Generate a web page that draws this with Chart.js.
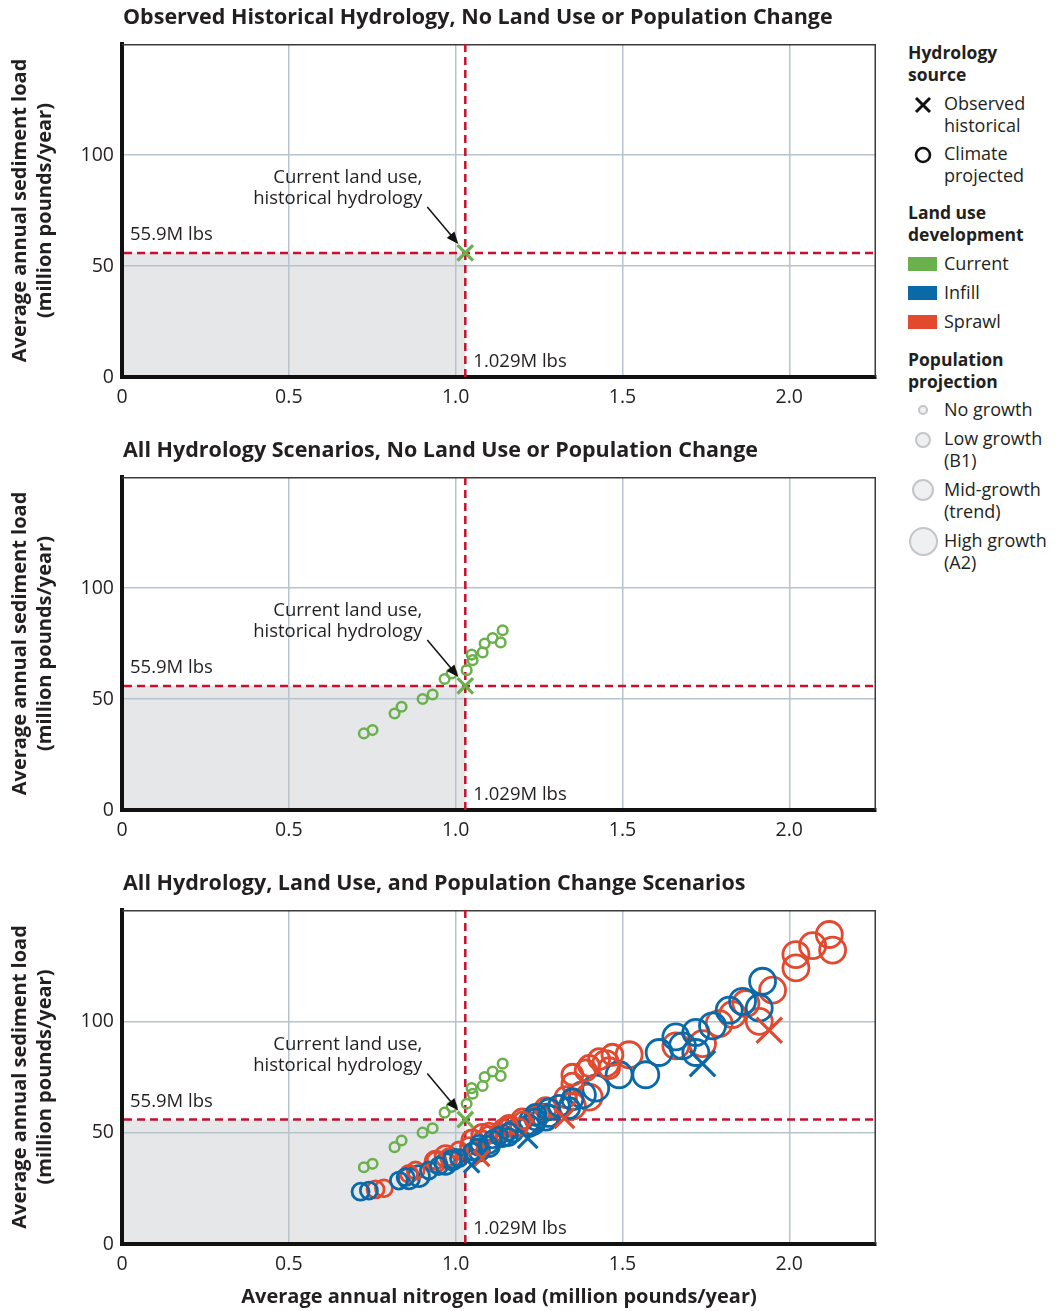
<!DOCTYPE html>
<html>
<head>
<meta charset="utf-8">
<script src="https://cdn.jsdelivr.net/npm/chart.js@4.4.1/dist/chart.umd.min.js"></script>
<style>
  body { margin: 0; background: #fff; font-family: "Open Sans", sans-serif; color: #231f20; }
  #page { position: relative; width: 1063px; height: 1311px; overflow: hidden; }
  canvas { position: absolute; left: 0; }
  .lg { position: absolute; font-size: 18px; line-height: 21.5px; white-space: nowrap; }
  .lg.head { font-weight: bold; font-size: 17.5px; left: 908px; }
  .lg.txt { left: 944px; }
  .sw { position: absolute; left: 908px; width: 29px; height: 14px; }
  .pop { position: absolute; border-radius: 50%; background: #eef0f2; border: 2.5px solid #c3c5c8; box-sizing: border-box; }
</style>
</head>
<body>
<div id="page">
  <canvas id="p1" width="890" height="433" style="top:0"></canvas>
  <canvas id="p2" width="890" height="433" style="top:433px"></canvas>
  <canvas id="p3" width="890" height="445" style="top:866px"></canvas>

  <div class="lg head" style="top:42px">Hydrology<br>source</div>
  <svg style="position:absolute;left:914px;top:96px" width="18" height="18"><path d="M2 2 L16 16 M16 2 L2 16" stroke="#111" stroke-width="3"/></svg>
  <div class="lg txt" style="top:93px">Observed<br>historical</div>
  <svg style="position:absolute;left:913px;top:145px" width="20" height="20"><circle cx="10" cy="10" r="7" fill="none" stroke="#111" stroke-width="2.6"/></svg>
  <div class="lg txt" style="top:143px">Climate<br>projected</div>

  <div class="lg head" style="top:202px">Land use<br>development</div>
  <div class="sw" style="top:257px;background:#6ab04c"></div>
  <div class="lg txt" style="top:253px">Current</div>
  <div class="sw" style="top:286px;background:#0a6aa8"></div>
  <div class="lg txt" style="top:282px">Infill</div>
  <div class="sw" style="top:315px;background:#e2492f"></div>
  <div class="lg txt" style="top:311px">Sprawl</div>

  <div class="lg head" style="top:349px">Population<br>projection</div>
  <div class="pop" style="left:918px;top:405px;width:10px;height:10px"></div>
  <div class="lg txt" style="top:399px">No growth</div>
  <div class="pop" style="left:915px;top:432px;width:16px;height:16px"></div>
  <div class="lg txt" style="top:428px">Low growth<br>(B1)</div>
  <div class="pop" style="left:912px;top:479px;width:22px;height:22px"></div>
  <div class="lg txt" style="top:479px">Mid-growth<br>(trend)</div>
  <div class="pop" style="left:909px;top:527px;width:29px;height:29px"></div>
  <div class="lg txt" style="top:530px">High growth<br>(A2)</div>
</div>

<script>
// axis ticks and reference values
const xTicks = [0, 0.5, 1.0, 1.5, 2.0];
const yTicks = [0, 50, 100];
const refNitrogen = 1.029;
const refSediment = 55.9;

const titles = [
  "Observed Historical Hydrology, No Land Use or Population Change",
  "All Hydrology Scenarios, No Land Use or Population Change",
  "All Hydrology, Land Use, and Population Change Scenarios"
];

// [nitrogen, sediment] pairs, million pounds/year
const currentHistorical = [[1.029, 55.9]];
const currentClimate = [[0.725,34.5],[0.751,36],[0.817,43.5],[0.838,46.5],[0.901,50],[0.931,52],[0.967,59],[0.988,61.5],
  [1.033,63],[1.051,67.5],[1.048,70],[1.081,71],[1.087,75],[1.111,77.5],[1.135,75.5],[1.141,81]];

const infillLow = [[0.715,23.5],[0.74,24],[0.83,28.5],[0.85,30],[0.92,33],[0.95,35],[0.99,38],[1.01,38.5],
  [1.05,41.5],[1.07,43.5],[1.07,45],[1.10,44.5],[1.11,47],[1.13,48.5],[1.16,48],[1.16,50.5]];
const infillMid = [[0.86,29.5],[0.89,30.5],[0.97,36],[0.99,38],[1.07,42],[1.10,44],[1.14,48.5],[1.17,50.5],
  [1.22,53],[1.24,56],[1.24,58],[1.28,57.5],[1.28,60.5],[1.31,62],[1.34,61],[1.35,65]];
const infillHigh = [[1.23,55],[1.27,57],[1.38,67],[1.42,70],[1.49,76],[1.57,76],[1.61,86],[1.66,93],
  [1.68,89],[1.72,95],[1.72,86],[1.77,98],[1.82,105],[1.86,109],[1.91,106],[1.92,118]];
const sprawlLow = [[0.76,24.5],[0.785,25],[0.86,31.5],[0.88,33],[0.94,37.5],[0.98,39],[1.01,42],[1.04,44],
  [1.08,47],[1.10,49],[1.10,50.5],[1.13,50],[1.14,52],[1.16,53],[1.19,52.5],[1.20,55.5]];
const sprawlMid = [[0.94,37],[0.97,39.5],[1.05,46.5],[1.08,49],[1.16,53],[1.20,56],[1.25,58],[1.27,61],
  [1.33,66],[1.35,72],[1.35,76],[1.39,78],[1.40,80],[1.43,83],[1.46,79],[1.47,85]];
const sprawlHigh = [[1.35,62],[1.40,66],[1.45,81],[1.52,85],[1.66,89],[1.74,90],[1.79,99],[1.83,103],
  [1.87,108],[1.91,100],[1.95,114],[2.02,124],[2.02,130],[2.07,134],[2.12,139],[2.13,132]];
const infillHistorical = [[1.048,35.5],[1.216,47.5],[1.74,81]];
const sprawlHistorical = [[1.078,38.5],[1.326,56.5],[1.94,96]];

const GREEN = "#6ab04c", BLUE = "#0a6aa8", RED = "#e2492f";
const FONT = '"Open Sans", sans-serif';
const INK = "#231f20";

const pts = (arr) => arr.map(([x, y]) => ({ x, y }));

function circles(arr, color, r, bw) {
  return {
    data: pts(arr), pointStyle: "circle", pointRadius: r, pointHoverRadius: r,
    pointBorderColor: color, pointBackgroundColor: "rgba(0,0,0,0)", pointBorderWidth: bw
  };
}
function crosses(arr, color, r) {
  return {
    data: pts(arr), pointStyle: "crossRot", pointRadius: r, pointHoverRadius: r,
    pointBorderColor: color, pointBackgroundColor: color, pointBorderWidth: 3.2
  };
}

// gray box, reference lines, frame, labels and panel title
const refPlugin = {
  id: "refPlugin",
  beforeDraw(chart) {
    const { ctx, chartArea: a, scales: { x, y } } = chart;
    const px = x.getPixelForValue(refNitrogen), py = y.getPixelForValue(refSediment);
    ctx.save();
    ctx.fillStyle = "#e6e7e9";
    ctx.fillRect(a.left, py, px - a.left, a.bottom - py);
    ctx.restore();
  },
  beforeDatasetsDraw(chart) {
    const { ctx, chartArea: a, scales: { x, y } } = chart;
    const px = x.getPixelForValue(refNitrogen), py = y.getPixelForValue(refSediment);
    ctx.save();
    ctx.strokeStyle = "#3a3a3a";
    ctx.lineWidth = 1.5;
    ctx.beginPath();
    ctx.moveTo(a.left, a.top + 0.75); ctx.lineTo(a.right - 0.75, a.top + 0.75); ctx.lineTo(a.right - 0.75, a.bottom);
    ctx.stroke();
    ctx.strokeStyle = "#c8102e";
    ctx.lineWidth = 2.5;
    ctx.setLineDash([8, 5]);
    ctx.beginPath();
    ctx.moveTo(a.left + 2, py); ctx.lineTo(a.right, py);
    ctx.moveTo(px, a.top); ctx.lineTo(px, a.bottom);
    ctx.stroke();
    ctx.restore();
  },
  afterDraw(chart) {
    const { ctx, chartArea: a, scales: { x, y } } = chart;
    const px = x.getPixelForValue(refNitrogen), py = y.getPixelForValue(refSediment);
    ctx.save();
    ctx.fillStyle = INK;
    ctx.textBaseline = "middle";
    ctx.font = "bold 21.5px " + FONT;
    ctx.textAlign = "left";
    ctx.fillText(chart.options.plugins.refPlugin.title, a.left + 1, a.top - 26);

    ctx.font = "18.5px " + FONT;
    ctx.fillText("55.9M lbs", a.left + 8, py - 18);
    ctx.fillText("1.029M lbs", px + 8, a.bottom - 15);
    ctx.textAlign = "right";
    ctx.fillText("Current land use,", px - 43, py - 75);
    ctx.fillText("historical hydrology", px - 43, py - 54);

    // arrow to the historical point
    const tx = px - 7, ty = py - 9, sx = px - 38, sy = py - 46;
    const ang = Math.atan2(ty - sy, tx - sx);
    ctx.strokeStyle = "#111";
    ctx.lineWidth = 1.5;
    ctx.beginPath();
    ctx.moveTo(sx, sy);
    ctx.lineTo(tx - 8 * Math.cos(ang), ty - 8 * Math.sin(ang));
    ctx.stroke();
    ctx.fillStyle = "#111";
    ctx.beginPath();
    ctx.moveTo(tx, ty);
    ctx.lineTo(tx - 12 * Math.cos(ang) + 5 * Math.sin(ang), ty - 12 * Math.sin(ang) - 5 * Math.cos(ang));
    ctx.lineTo(tx - 12 * Math.cos(ang) - 5 * Math.sin(ang), ty - 12 * Math.sin(ang) + 5 * Math.cos(ang));
    ctx.closePath();
    ctx.fill();
    ctx.restore();
  }
};

function makePanel(id, title, datasets, xAxisH, showXTitle) {
  return new Chart(document.getElementById(id), {
    type: "scatter",
    data: { datasets },
    plugins: [refPlugin],
    options: {
      responsive: false,
      animation: false,
      events: [],
      layout: { autoPadding: false, padding: { top: 44, right: 14, left: 0, bottom: 0 } },
      plugins: { legend: { display: false }, tooltip: { enabled: false }, refPlugin: { title } },
      scales: {
        x: {
          type: "linear", min: 0, max: 2.26,
          afterBuildTicks: (s) => { s.ticks = xTicks.map((v) => ({ value: v })); },
          afterFit: (s) => { s.height = xAxisH; s.paddingLeft = 0; s.paddingRight = 0; },
          grid: { color: "#b7c3cd", lineWidth: 1.5, drawTicks: false },
          border: { color: "#111", width: 4 },
          ticks: {
            font: { family: FONT, size: 19.5 }, color: INK, padding: 9,
            callback: (v) => (v === 0 ? "0" : v.toFixed(1))
          },
          title: {
            display: showXTitle,
            text: "Average annual nitrogen load (million pounds/year)",
            font: { family: FONT, size: 20, weight: "bold", lineHeight: 1.2 },
            color: INK, padding: { top: 0, bottom: 2 }
          }
        },
        y: {
          type: "linear", min: 0, max: 150,
          afterBuildTicks: (s) => { s.ticks = yTicks.map((v) => ({ value: v })); },
          afterFit: (s) => { s.width = 122; s.paddingTop = 0; s.paddingBottom = 0; },
          grid: { color: "#b7c3cd", lineWidth: 1.5, drawTicks: false },
          border: { color: "#111", width: 4 },
          ticks: { font: { family: FONT, size: 19.5 }, color: INK, padding: 8 },
          title: {
            display: true,
            text: ["Average annual sediment load", "(million pounds/year)"],
            font: { family: FONT, size: 20, weight: "bold", lineHeight: 1.25 },
            color: INK, padding: { top: 7.5, bottom: 0 }
          }
        }
      }
    }
  });
}

function build() {
  makePanel("p1", titles[0], [
    crosses(currentHistorical, GREEN, 11)
  ], 56, false);

  makePanel("p2", titles[1], [
    crosses(currentHistorical, GREEN, 11),
    circles(currentClimate, GREEN, 4.8, 2.5)
  ], 56, false);

  // first dataset is drawn on top
  makePanel("p3", titles[2], [
    crosses(currentHistorical, GREEN, 11),
    crosses(infillHistorical.slice(0, 1), BLUE, 11),
    crosses(sprawlHistorical.slice(0, 1), RED, 11),
    crosses(infillHistorical.slice(1, 2), BLUE, 14),
    crosses(sprawlHistorical.slice(1, 2), RED, 14),
    crosses(infillHistorical.slice(2), BLUE, 18),
    crosses(sprawlHistorical.slice(2), RED, 18),
    circles(currentClimate, GREEN, 4.8, 2.5),
    circles(infillLow, BLUE, 8.5, 2.8),
    circles(sprawlLow, RED, 8.5, 2.8),
    circles(infillMid, BLUE, 10.5, 2.8),
    circles(sprawlMid, RED, 10.5, 2.8),
    circles(infillHigh, BLUE, 13, 2.8),
    circles(sprawlHigh, RED, 13, 2.8)
  ], 67, true);
}

Promise.all([
  document.fonts.load('19px "Open Sans"'),
  document.fonts.load('bold 20px "Open Sans"')
]).then(build, build);
</script>
</body>
</html>
